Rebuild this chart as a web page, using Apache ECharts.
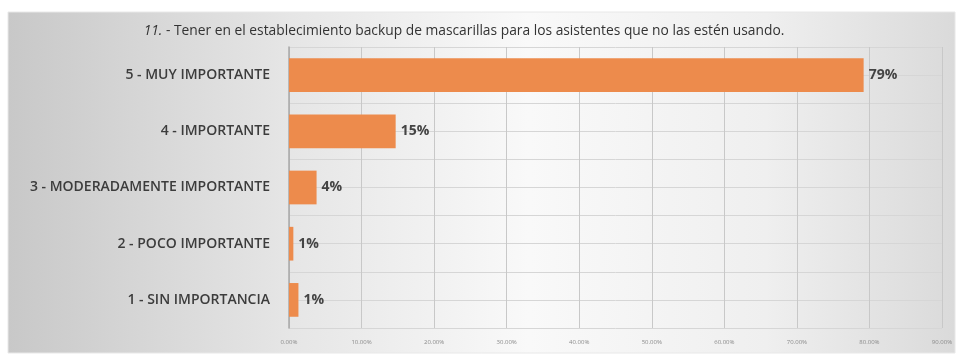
<!DOCTYPE html>
<html>
<head>
<meta charset="utf-8">
<script src="https://cdn.jsdelivr.net/npm/echarts@6/dist/echarts.min.js"></script>
<style>
  html, body { margin: 0; padding: 0; background: #ffffff; }
  #chart { width: 961px; height: 355px; }
</style>
</head>
<body>
<div id="chart"></div>
<script>
// Survey item 11: share of answers per importance level
const categories = [
  '1 - SIN IMPORTANCIA',
  '2 - POCO IMPORTANTE',
  '3 - MODERADAMENTE IMPORTANTE',
  '4 - IMPORTANTE',
  '5 - MUY IMPORTANTE'
];
const shares = [1.3, 0.6, 3.8, 14.7, 79.2];   // percent of respondents
const xTicks = { min: 0, max: 90, interval: 10 };
const titleNumber = '11.';
const titleText = ' - Tener en el establecimiento backup de mascarillas para los asistentes que no las estén usando.';

const chart = echarts.init(document.getElementById('chart'), null, { renderer: 'canvas' });

const option = {
  animation: false,
  graphic: [
    {
      type: 'rect',
      z: -10,
      silent: true,
      shape: { x: 8, y: 12, width: 947, height: 341 },
      style: {
        fill: new echarts.graphic.LinearGradient(0, 0, 1, 0, [
          { offset: 0, color: '#c8c8c8' },
          { offset: 0.3, color: '#e6e6e6' },
          { offset: 0.55, color: '#f9f9f9' },
          { offset: 0.8, color: '#efefef' },
          { offset: 1, color: '#dadada' }
        ]),
        stroke: '#e8e8e8',
        lineWidth: 1
      }
    }
  ],
  title: {
    text: '{i|' + titleNumber + '}{n|' + titleText + '}',
    left: 459,
    textAlign: 'center',
    top: 19,
    textStyle: {
      fontWeight: 'normal',
      rich: {
        i: { fontFamily: 'Open Sans', fontStyle: 'italic', fontWeight: 'normal', fontSize: 13.8, color: '#333333' },
        n: { fontFamily: 'Open Sans', fontWeight: 'normal', fontSize: 13.8, color: '#333333' }
      }
    }
  },
  grid: { left: 289, right: 19, top: 47, bottom: 27, containLabel: false },
  xAxis: {
    type: 'value',
    min: xTicks.min,
    max: xTicks.max,
    interval: xTicks.interval,
    axisLine: { show: false },
    axisTick: { show: false },
    axisLabel: {
      fontSize: 6,
      color: '#8a8a8a',
      margin: 11,
      fontFamily: 'Open Sans',
      formatter: v => v.toFixed(2) + '%'
    },
    splitLine: { lineStyle: { color: '#c8c8c8', width: 1 } }
  },
  yAxis: [
    {
      type: 'category',
      data: categories,
      axisLine: { show: true, lineStyle: { color: '#a8a8a8', width: 1.5 } },
      axisTick: { show: false },
      axisLabel: {
        fontSize: 14,
        fontFamily: 'Open Sans',
        fontWeight: 600,
        color: '#3c3c3c',
        margin: 19
      },
      splitLine: { show: false }
    },
    {
      // half-category guide lines behind the bars
      type: 'value',
      min: 0,
      max: 5,
      interval: 0.5,
      show: true,
      axisLine: { show: false },
      axisTick: { show: false },
      axisLabel: { show: false },
      splitLine: { show: true, lineStyle: { color: '#d6d6d6', width: 1 } }
    }
  ],
  series: [
    {
      type: 'bar',
      data: shares,
      yAxisIndex: 0,
      barCategoryGap: '40%',
      itemStyle: { color: '#ED8B4C' },
      label: {
        show: true,
        position: 'right',
        distance: 5,
        fontFamily: 'Open Sans',
        fontSize: 14,
        fontWeight: 700,
        color: '#444444',
        formatter: p => Math.round(p.value) + '%'
      }
    }
  ]
};

chart.setOption(option);
</script>
</body>
</html>
